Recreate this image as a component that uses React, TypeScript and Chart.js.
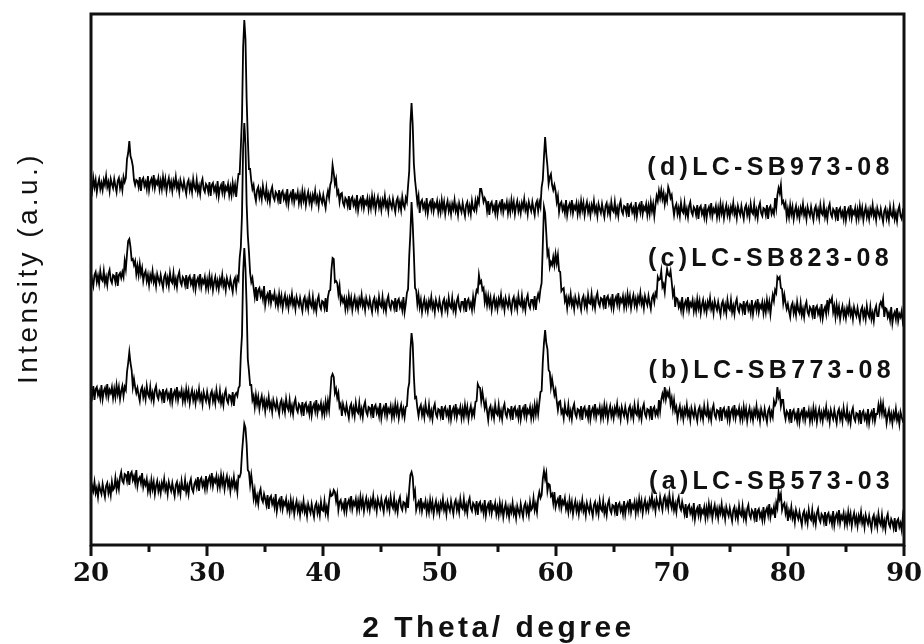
import React, { useEffect, useRef } from 'react';
import { Chart, registerables } from 'chart.js';

Chart.register(...registerables);

// sampling grid of the diffractogram: 20.0 .. 90.0 deg, 0.1 deg steps (701 points)
const twoTheta: number[] = Array.from({ length: 701 }, (_, i) => Math.round((20 + i * 0.1) * 10) / 10);

// intensities (a.u., vertical stacking offset included); one row = one degree
const seriesD: number[] = [
  363, 355, 367, 358, 365, 353, 361, 366, 356, 362,
  355, 365, 360, 369, 358, 363, 354, 366, 361, 357,
  366, 359, 353, 364, 367, 357, 363, 355, 368, 363,
  367, 386, 392, 404, 389, 385, 379, 365, 360, 365,
  364, 358, 368, 354, 365, 367, 359, 363, 356, 369,
  355, 363, 366, 359, 370, 357, 364, 361, 367, 356,
  364, 356, 368, 359, 366, 354, 362, 367, 357, 363,
  354, 364, 359, 368, 357, 362, 353, 365, 360, 356,
  364, 357, 351, 362, 365, 355, 361, 353, 366, 358,
  355, 365, 353, 359, 351, 362, 366, 356, 353, 361,
  359, 353, 363, 349, 360, 362, 354, 358, 351, 364,
  349, 357, 360, 353, 364, 351, 358, 355, 361, 350,
  358, 350, 362, 353, 360, 348, 361, 371, 371, 398,
  427, 498, 525, 506, 446, 407, 376, 376, 364, 356,
  360, 350, 344, 355, 358, 348, 354, 346, 359, 351,
  347, 357, 345, 351, 343, 354, 358, 348, 345, 353,
  351, 345, 355, 341, 352, 354, 346, 350, 343, 356,
  341, 349, 352, 345, 356, 343, 350, 347, 353, 342,
  350, 342, 354, 345, 352, 340, 348, 353, 343, 349,
  340, 350, 345, 354, 343, 348, 339, 351, 346, 342,
  350, 343, 337, 348, 354, 347, 360, 364, 380, 372,
  361, 366, 351, 354, 343, 351, 352, 342, 339, 347,
  345, 339, 349, 335, 346, 348, 340, 344, 337, 350,
  335, 343, 346, 339, 350, 337, 344, 341, 347, 336,
  345, 337, 349, 340, 347, 335, 343, 348, 338, 344,
  335, 345, 340, 349, 338, 343, 334, 346, 341, 337,
  346, 339, 333, 344, 347, 337, 343, 335, 348, 340,
  337, 347, 343, 359, 374, 421, 442, 420, 381, 365,
  354, 342, 349, 332, 343, 345, 337, 341, 334, 347,
  332, 340, 343, 336, 347, 334, 341, 338, 344, 333,
  341, 333, 345, 336, 343, 331, 339, 344, 334, 340,
  331, 341, 336, 345, 334, 339, 330, 342, 337, 333,
  342, 335, 329, 340, 343, 333, 339, 331, 344, 336,
  334, 344, 336, 346, 342, 356, 356, 350, 343, 347,
  344, 334, 344, 330, 341, 343, 335, 339, 332, 345,
  331, 339, 342, 335, 346, 333, 340, 337, 343, 332,
  341, 333, 345, 336, 343, 331, 339, 344, 334, 340,
  332, 342, 337, 346, 335, 340, 331, 343, 338, 334,
  343, 336, 330, 341, 344, 334, 343, 338, 358, 365,
  388, 408, 391, 379, 361, 368, 371, 360, 355, 360,
  354, 343, 349, 333, 341, 343, 335, 339, 332, 345,
  330, 338, 341, 334, 345, 332, 339, 336, 342, 331,
  340, 332, 344, 335, 342, 330, 338, 343, 333, 339,
  330, 340, 335, 344, 333, 338, 329, 341, 336, 332,
  341, 334, 328, 339, 342, 332, 338, 330, 343, 335,
  333, 343, 331, 337, 329, 340, 344, 334, 331, 339,
  338, 332, 342, 328, 339, 341, 333, 337, 330, 343,
  329, 337, 340, 333, 344, 331, 338, 335, 341, 330,
  339, 331, 343, 334, 341, 329, 340, 349, 344, 354,
  347, 355, 346, 352, 341, 349, 344, 358, 354, 347,
  350, 339, 330, 338, 341, 331, 337, 329, 342, 334,
  332, 342, 330, 336, 328, 339, 343, 333, 330, 338,
  336, 330, 340, 326, 337, 339, 331, 335, 328, 341,
  327, 335, 338, 331, 342, 329, 336, 333, 339, 328,
  337, 329, 341, 332, 339, 327, 335, 340, 330, 336,
  328, 338, 333, 342, 331, 336, 327, 339, 334, 330,
  339, 332, 326, 337, 340, 330, 336, 328, 341, 333,
  331, 341, 329, 335, 327, 338, 342, 332, 329, 337,
  336, 330, 340, 326, 337, 339, 331, 335, 331, 347,
  337, 350, 357, 352, 360, 342, 344, 338, 342, 328,
  336, 328, 340, 331, 338, 326, 334, 339, 329, 335,
  327, 337, 332, 341, 330, 335, 326, 338, 333, 329,
  338, 331, 325, 336, 339, 329, 335, 327, 340, 332,
  330, 340, 328, 334, 326, 337, 341, 331, 328, 336,
  334, 328, 338, 324, 335, 337, 329, 333, 326, 339,
  325, 333, 336, 329, 340, 327, 334, 331, 337, 326,
  335, 327, 339, 330, 337, 325, 333, 338, 328, 334,
  326, 336, 331, 340, 329, 334, 325, 337, 332, 328,
  336, 329, 323, 334, 337, 327, 333, 325, 338, 330,
  328, 338, 326, 332, 324, 335, 339, 329, 326, 334,
  331,
];

const seriesC: number[] = [
  272, 265, 259, 270, 273, 263, 269, 261, 274, 266,
  264, 274, 262, 268, 260, 271, 275, 265, 262, 270,
  269, 263, 273, 259, 270, 272, 267, 273, 268, 284,
  276, 291, 304, 306, 298, 285, 286, 280, 284, 271,
  279, 270, 281, 271, 277, 264, 271, 274, 264, 270,
  260, 270, 265, 274, 263, 268, 259, 271, 266, 262,
  270, 263, 257, 268, 271, 261, 267, 259, 272, 264,
  262, 272, 260, 266, 258, 269, 273, 263, 260, 268,
  266, 260, 270, 256, 267, 269, 261, 265, 258, 271,
  256, 264, 267, 260, 271, 258, 265, 262, 268, 257,
  265, 257, 269, 260, 267, 255, 263, 268, 258, 264,
  256, 266, 261, 270, 259, 264, 255, 267, 262, 258,
  266, 259, 253, 264, 267, 257, 268, 265, 287, 298,
  330, 398, 422, 401, 341, 310, 293, 272, 263, 267,
  257, 248, 258, 244, 255, 257, 249, 253, 246, 259,
  240, 248, 251, 244, 255, 242, 249, 246, 252, 241,
  247, 239, 251, 242, 249, 237, 245, 250, 240, 246,
  237, 247, 242, 251, 240, 245, 236, 248, 243, 239,
  247, 240, 234, 245, 248, 238, 244, 236, 249, 241,
  238, 248, 236, 242, 234, 245, 249, 239, 236, 244,
  243, 237, 247, 233, 248, 254, 255, 275, 287, 286,
  263, 264, 262, 251, 259, 243, 248, 243, 247, 236,
  245, 237, 249, 240, 247, 235, 243, 248, 238, 244,
  236, 246, 241, 250, 239, 244, 235, 247, 242, 238,
  246, 239, 233, 244, 247, 237, 243, 235, 248, 240,
  238, 248, 236, 242, 234, 245, 249, 239, 236, 244,
  243, 237, 247, 233, 244, 246, 238, 242, 235, 248,
  233, 241, 252, 256, 289, 312, 343, 321, 291, 257,
  255, 241, 250, 238, 245, 233, 241, 246, 236, 242,
  234, 244, 239, 248, 237, 242, 233, 245, 240, 236,
  245, 238, 232, 243, 246, 236, 242, 234, 247, 239,
  237, 247, 235, 241, 233, 244, 248, 238, 235, 243,
  243, 237, 247, 233, 244, 246, 238, 242, 235, 248,
  238, 248, 255, 253, 270, 262, 264, 255, 257, 243,
  250, 240, 249, 240, 247, 235, 243, 248, 238, 244,
  236, 246, 241, 250, 239, 244, 235, 247, 242, 238,
  247, 240, 234, 245, 248, 238, 244, 236, 249, 241,
  239, 249, 237, 243, 235, 246, 250, 240, 237, 245,
  245, 239, 249, 235, 246, 251, 246, 256, 262, 300,
  338, 332, 312, 290, 294, 278, 283, 280, 288, 280,
  291, 282, 290, 274, 273, 254, 256, 257, 244, 248,
  237, 247, 242, 251, 240, 245, 236, 248, 243, 239,
  248, 241, 235, 246, 249, 239, 245, 237, 250, 242,
  241, 251, 239, 245, 237, 248, 252, 242, 239, 247,
  246, 240, 250, 236, 247, 249, 241, 245, 238, 251,
  237, 245, 248, 241, 252, 239, 246, 243, 249, 238,
  247, 239, 251, 242, 249, 237, 245, 250, 240, 246,
  238, 248, 243, 252, 241, 246, 237, 249, 244, 240,
  249, 242, 236, 247, 250, 243, 252, 249, 268, 265,
  266, 274, 258, 261, 253, 267, 276, 270, 269, 274,
  263, 250, 255, 238, 247, 246, 238, 242, 235, 248,
  233, 241, 244, 237, 248, 235, 242, 239, 245, 234,
  242, 234, 246, 237, 244, 232, 240, 245, 235, 241,
  233, 243, 238, 247, 236, 241, 232, 244, 239, 235,
  243, 236, 230, 241, 244, 234, 240, 232, 245, 237,
  235, 245, 233, 239, 231, 242, 246, 236, 233, 241,
  240, 234, 244, 230, 241, 243, 235, 239, 232, 245,
  231, 239, 242, 235, 246, 233, 240, 237, 243, 232,
  241, 233, 245, 236, 243, 231, 242, 250, 244, 255,
  252, 268, 266, 268, 257, 256, 242, 250, 242, 236,
  241, 234, 228, 239, 242, 232, 238, 230, 243, 235,
  232, 242, 230, 236, 228, 239, 243, 233, 230, 238,
  236, 230, 240, 226, 237, 239, 231, 235, 228, 241,
  227, 235, 238, 231, 245, 235, 245, 243, 247, 233,
  239, 228, 240, 231, 238, 226, 234, 239, 229, 235,
  227, 237, 232, 241, 230, 235, 226, 238, 233, 229,
  237, 230, 224, 235, 238, 228, 234, 226, 239, 231,
  228, 238, 226, 232, 224, 235, 239, 229, 229, 240,
  243, 239, 246, 228, 237, 236, 228, 232, 225, 238,
  222, 230, 233, 226, 237, 224, 231, 228, 234, 223,
  228,
];

const seriesB: number[] = [
  155, 149, 159, 145, 156, 158, 150, 154, 147, 160,
  146, 154, 157, 150, 161, 148, 155, 152, 158, 147,
  156, 148, 160, 151, 158, 146, 154, 159, 149, 158,
  155, 173, 182, 193, 182, 175, 158, 166, 158, 152,
  157, 150, 144, 155, 158, 148, 154, 146, 159, 151,
  148, 158, 146, 152, 144, 155, 159, 149, 146, 154,
  152, 146, 156, 142, 153, 155, 147, 151, 144, 157,
  143, 151, 154, 147, 158, 145, 152, 149, 155, 144,
  152, 144, 156, 147, 154, 142, 150, 155, 145, 151,
  142, 152, 147, 156, 145, 150, 141, 153, 148, 144,
  153, 146, 140, 151, 154, 144, 150, 142, 155, 147,
  144, 154, 142, 148, 140, 151, 155, 145, 142, 150,
  149, 143, 153, 139, 150, 152, 149, 157, 159, 190,
  210, 272, 297, 277, 239, 186, 174, 160, 160, 145,
  149, 138, 150, 141, 148, 136, 144, 149, 139, 145,
  134, 144, 139, 148, 137, 142, 133, 145, 140, 136,
  144, 137, 131, 142, 145, 135, 141, 133, 146, 138,
  135, 145, 133, 139, 131, 142, 146, 136, 133, 141,
  139, 133, 143, 129, 140, 142, 134, 138, 131, 144,
  130, 138, 141, 134, 145, 132, 139, 136, 142, 131,
  139, 131, 143, 134, 144, 135, 151, 168, 171, 168,
  152, 156, 147, 152, 138, 141, 129, 141, 136, 132,
  140, 133, 127, 138, 141, 131, 137, 129, 142, 134,
  132, 142, 130, 136, 128, 139, 143, 133, 130, 138,
  137, 131, 141, 127, 138, 140, 132, 136, 129, 142,
  127, 135, 138, 131, 142, 129, 136, 133, 139, 128,
  137, 129, 141, 132, 139, 127, 135, 140, 130, 136,
  128, 138, 139, 156, 162, 195, 212, 201, 169, 147,
  148, 137, 129, 137, 140, 130, 136, 128, 141, 133,
  130, 140, 128, 134, 126, 137, 141, 131, 128, 136,
  135, 129, 139, 125, 136, 138, 130, 134, 127, 140,
  126, 134, 137, 130, 141, 128, 135, 132, 138, 127,
  136, 128, 140, 131, 138, 126, 134, 139, 129, 135,
  130, 143, 144, 161, 158, 157, 144, 153, 145, 137,
  143, 134, 125, 136, 139, 129, 135, 127, 140, 132,
  130, 140, 128, 134, 126, 137, 141, 131, 128, 136,
  135, 129, 139, 125, 136, 138, 130, 134, 127, 140,
  126, 134, 137, 130, 141, 128, 135, 132, 138, 127,
  136, 128, 140, 131, 141, 131, 142, 153, 154, 183,
  202, 215, 202, 196, 175, 173, 158, 166, 158, 150,
  155, 144, 135, 143, 144, 132, 135, 127, 140, 132,
  130, 140, 128, 134, 126, 137, 141, 131, 128, 136,
  135, 129, 139, 125, 136, 138, 130, 134, 127, 140,
  126, 134, 137, 130, 141, 128, 135, 132, 138, 127,
  136, 128, 140, 131, 138, 126, 134, 139, 129, 135,
  127, 137, 132, 141, 130, 135, 126, 138, 133, 129,
  138, 131, 125, 136, 139, 129, 135, 127, 140, 132,
  130, 140, 128, 134, 126, 137, 141, 131, 128, 136,
  135, 129, 139, 125, 136, 138, 130, 134, 130, 145,
  134, 145, 151, 146, 158, 146, 153, 149, 154, 141,
  147, 136, 145, 134, 138, 126, 134, 139, 129, 135,
  126, 136, 131, 140, 129, 134, 125, 137, 132, 128,
  137, 130, 124, 135, 138, 128, 134, 126, 139, 131,
  129, 139, 127, 133, 125, 136, 140, 130, 127, 135,
  134, 128, 138, 124, 135, 137, 129, 133, 126, 139,
  125, 133, 136, 129, 140, 127, 134, 131, 137, 126,
  134, 126, 138, 129, 136, 124, 132, 137, 127, 133,
  125, 135, 130, 139, 128, 133, 124, 136, 131, 127,
  136, 129, 123, 134, 137, 127, 133, 128, 144, 140,
  143, 158, 148, 152, 139, 145, 145, 132, 126, 134,
  132, 126, 136, 122, 133, 135, 127, 131, 124, 137,
  123, 131, 134, 127, 138, 125, 132, 129, 135, 124,
  133, 125, 137, 128, 135, 123, 131, 136, 126, 132,
  124, 134, 129, 138, 127, 132, 123, 135, 130, 126,
  135, 128, 122, 133, 136, 126, 132, 124, 137, 129,
  126, 136, 124, 130, 122, 133, 137, 127, 124, 132,
  131, 125, 135, 121, 132, 134, 126, 130, 123, 136,
  122, 130, 133, 126, 137, 124, 131, 131, 140, 132,
  142, 132, 141, 130, 134, 122, 130, 135, 125, 131,
  122, 132, 127, 136, 125, 130, 121, 133, 128, 124,
  126,
];

const seriesA: number[] = [
  49, 59, 54, 63, 52, 57, 48, 60, 55, 51,
  61, 54, 48, 59, 62, 52, 58, 50, 63, 55,
  57, 67, 56, 63, 56, 68, 73, 64, 62, 71,
  70, 64, 74, 60, 71, 73, 65, 69, 62, 75,
  59, 66, 68, 62, 72, 58, 64, 60, 66, 54,
  61, 53, 65, 56, 63, 51, 59, 64, 54, 60,
  52, 62, 57, 66, 55, 60, 51, 63, 58, 54,
  62, 55, 49, 60, 63, 53, 59, 51, 64, 56,
  55, 65, 53, 59, 51, 62, 66, 56, 53, 61,
  64, 58, 68, 54, 65, 67, 59, 63, 56, 69,
  57, 65, 68, 61, 72, 59, 66, 63, 69, 58,
  66, 58, 70, 61, 68, 56, 64, 69, 59, 65,
  54, 64, 59, 68, 57, 62, 53, 69, 68, 72,
  92, 107, 121, 117, 101, 75, 73, 60, 70, 60,
  47, 55, 43, 49, 41, 52, 56, 46, 43, 51,
  46, 40, 50, 36, 47, 49, 41, 45, 38, 51,
  34, 42, 45, 38, 49, 36, 43, 40, 46, 35,
  41, 33, 45, 36, 43, 31, 39, 44, 34, 40,
  30, 40, 35, 44, 33, 38, 29, 41, 36, 32,
  41, 34, 28, 39, 42, 32, 38, 30, 43, 35,
  34, 44, 32, 38, 30, 44, 53, 49, 50, 55,
  53, 44, 51, 35, 43, 45, 37, 41, 34, 47,
  34, 42, 45, 38, 49, 36, 43, 40, 46, 35,
  44, 36, 48, 39, 46, 34, 42, 47, 37, 43,
  35, 45, 40, 49, 38, 43, 34, 46, 41, 37,
  46, 39, 33, 44, 47, 37, 43, 35, 48, 40,
  37, 47, 35, 41, 33, 44, 48, 38, 35, 43,
  42, 36, 46, 37, 56, 70, 73, 68, 49, 54,
  35, 40, 43, 36, 47, 34, 41, 38, 44, 33,
  41, 33, 45, 36, 43, 31, 39, 44, 34, 40,
  32, 42, 37, 46, 35, 40, 31, 43, 38, 34,
  44, 37, 31, 42, 45, 35, 41, 33, 46, 38,
  36, 46, 34, 40, 32, 43, 47, 37, 34, 42,
  40, 34, 44, 30, 41, 43, 35, 39, 32, 45,
  30, 38, 41, 34, 45, 32, 39, 36, 42, 31,
  38, 30, 42, 33, 40, 28, 36, 41, 31, 37,
  28, 38, 33, 42, 31, 36, 27, 39, 34, 30,
  41, 34, 28, 39, 42, 32, 38, 30, 43, 35,
  37, 47, 35, 41, 33, 47, 53, 47, 50, 66,
  74, 66, 72, 54, 61, 60, 49, 51, 42, 53,
  38, 43, 46, 39, 50, 37, 44, 41, 47, 36,
  41, 33, 45, 36, 43, 31, 39, 44, 34, 40,
  31, 41, 36, 45, 34, 39, 30, 42, 37, 33,
  42, 35, 29, 40, 43, 33, 39, 31, 44, 36,
  34, 44, 32, 38, 30, 41, 45, 35, 32, 40,
  39, 33, 43, 29, 40, 42, 34, 38, 31, 44,
  31, 39, 42, 35, 46, 33, 40, 37, 43, 32,
  42, 34, 46, 37, 44, 32, 40, 45, 35, 41,
  35, 45, 40, 49, 38, 43, 34, 46, 41, 37,
  48, 41, 35, 46, 49, 39, 45, 37, 50, 42,
  37, 47, 35, 41, 33, 44, 48, 38, 35, 43,
  37, 31, 41, 27, 38, 40, 32, 36, 29, 42,
  26, 34, 37, 30, 41, 28, 35, 32, 38, 27,
  37, 29, 41, 32, 39, 27, 35, 40, 30, 36,
  27, 37, 32, 41, 30, 35, 26, 38, 33, 29,
  37, 30, 24, 35, 38, 28, 34, 26, 39, 31,
  29, 39, 27, 33, 25, 36, 40, 30, 27, 35,
  33, 27, 37, 23, 34, 36, 28, 32, 25, 38,
  26, 34, 37, 30, 41, 28, 35, 32, 38, 27,
  42, 37, 53, 46, 51, 35, 40, 42, 32, 38,
  24, 34, 29, 38, 27, 32, 23, 35, 30, 26,
  33, 26, 20, 31, 34, 24, 30, 22, 35, 27,
  25, 35, 23, 29, 21, 32, 36, 26, 23, 31,
  29, 23, 33, 19, 30, 32, 24, 28, 21, 34,
  20, 28, 31, 24, 35, 22, 29, 26, 32, 21,
  29, 21, 33, 24, 31, 19, 27, 32, 22, 28,
  19, 29, 24, 33, 22, 27, 18, 30, 25, 21,
  29, 22, 16, 27, 30, 20, 26, 18, 31, 23,
  20, 30, 18, 24, 16, 27, 31, 21, 18, 26,
  23, 17, 27, 13, 24, 26, 18, 22, 15, 28,
  19,
];

const seriesNames: string[] = ['(d)LC-SB973-08', '(c)LC-SB823-08', '(b)LC-SB773-08', '(a)LC-SB573-03'];
const seriesValues: number[][] = [seriesD, seriesC, seriesB, seriesA];
// baseline (intensity units) of each name label and the 2-theta where it starts
const nameLevels: number[] = [370, 279, 167, 56];
const nameStarts: number[] = [67.9, 67.95, 68.0, 68.05];

const xMin = 20;
const xMax = 90;
const yMin = 0;
const yMax = 532;
const majorTicks: number[] = [20, 30, 40, 50, 60, 70, 80, 90];
const minorTicks: number[] = [25, 35, 45, 55, 65, 75, 85];
const xTitle = '2 Theta/ degree';
const yTitle = 'Intensity (a.u.)';

const decorPlugin = {
  id: 'decor',
  afterDraw(chart: any) {
    const { ctx, chartArea } = chart;
    const xs = chart.scales.x;
    const ys = chart.scales.y;
    const { left, right, top, bottom } = chartArea;
    ctx.save();
    ctx.strokeStyle = '#111';
    ctx.fillStyle = '#111';
    // frame
    ctx.lineWidth = 3;
    ctx.strokeRect(left, top + 1, right - left, bottom - top - 1);
    // ticks (outward, major + minor)
    ctx.beginPath();
    majorTicks.forEach((t) => {
      const px = Math.round(xs.getPixelForValue(t));
      ctx.moveTo(px, bottom);
      ctx.lineTo(px, bottom + 11);
    });
    minorTicks.forEach((t) => {
      const px = Math.round(xs.getPixelForValue(t));
      ctx.moveTo(px, bottom);
      ctx.lineTo(px, bottom + 7);
    });
    ctx.stroke();

    // series names
    ctx.font = 'bold 25px "Liberation Sans", Arial, sans-serif';
    (ctx as any).letterSpacing = '4.3px';
    ctx.textAlign = 'left';
    ctx.textBaseline = 'alphabetic';
    seriesNames.forEach((name, i) => {
      ctx.fillText(name, xs.getPixelForValue(nameStarts[i]), ys.getPixelForValue(nameLevels[i]));
    });

    // x title
    ctx.font = 'bold 30px "Liberation Sans", Arial, sans-serif';
    (ctx as any).letterSpacing = '3.5px';
    ctx.textAlign = 'center';
    ctx.fillText(xTitle, (left + right) / 2 + 1, 637);

    // y title
    ctx.font = '28px "Liberation Sans", Arial, sans-serif';
    (ctx as any).letterSpacing = '3.4px';
    ctx.translate(37, 268);
    ctx.rotate(-Math.PI / 2);
    ctx.textAlign = 'center';
    ctx.fillText(yTitle, 0, 0);
    ctx.restore();
  },
};

export default function App() {
  const canvasRef = useRef<HTMLCanvasElement | null>(null);

  useEffect(() => {
    const canvas = canvasRef.current;
    if (!canvas) return;
    const datasets = seriesValues.map((vals, k) => ({
      label: seriesNames[k],
      data: twoTheta.map((x, i) => ({ x, y: vals[i] })),
      borderColor: '#000000',
      borderWidth: 1.8,
      pointRadius: 0,
      tension: 0,
      fill: false,
    }));
    const chart = new Chart(canvas, {
      type: 'line',
      data: { datasets },
      options: {
        animation: false,
        responsive: false,
        maintainAspectRatio: false,
        layout: { padding: { left: 91, right: 20, top: 13, bottom: 0 } },
        plugins: {
          legend: { display: false },
          tooltip: { enabled: false },
          title: { display: false },
        },
        scales: {
          x: {
            type: 'linear',
            min: xMin,
            max: xMax,
            grid: { display: false, drawTicks: false },
            border: { display: false },
            ticks: {
              stepSize: 10,
              autoSkip: false,
              maxRotation: 0,
              padding: 14,
              color: '#111',
              font: { family: '"DejaVu Serif", serif', weight: 'bold', size: 26 },
            },
            afterFit(scale: any) {
              scale.height = 99;
              scale.paddingLeft = 0;
              scale.paddingRight = 0;
            },
          },
          y: {
            type: 'linear',
            min: yMin,
            max: yMax,
            display: false,
          },
        },
      },
      plugins: [decorPlugin],
    });
    return () => chart.destroy();
  }, []);

  return (
    <div style={{ position: 'absolute', left: 0, top: 0, width: 924, height: 644, background: '#fff' }}>
      <canvas ref={canvasRef} width={924} height={644} style={{ width: 924, height: 644 }} />
    </div>
  );
}
